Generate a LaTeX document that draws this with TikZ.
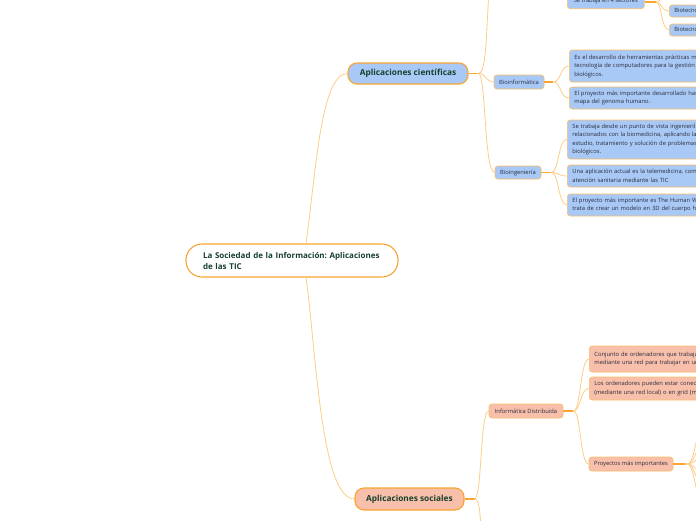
\documentclass[tikz,border=0pt]{standalone}
\usepackage{fontspec}
\setmainfont{Open Sans}
\frenchspacing
\definecolor{bord}{HTML}{F7A531}
\definecolor{sbord}{HTML}{F9BD6A}
\definecolor{lin}{HTML}{FDCD85}
\definecolor{blu}{HTML}{A8C9F6}
\definecolor{sal}{HTML}{F8C0AB}
\definecolor{dgreen}{HTML}{173F2E}
\definecolor{txt}{HTML}{2A2A3A}
\tikzset{
  mainbox/.style={draw=bord, line width=1.1pt, rounded corners=9pt, text=dgreen,
    font=\fontsize{8.3}{10}\selectfont\bfseries, align=center, inner sep=0pt},
  subbox/.style={draw=sbord, line width=0.7pt, rounded corners=3pt, text=txt,
    font=\fontsize{5.8}{8.5}\selectfont, inner sep=0pt, align=center},
  leafbox/.style={subbox, anchor=west, align=left, text width=200pt, inner xsep=5pt, inner ysep=0pt},
  thk/.style={draw=bord, line width=1.6pt},
  thn/.style={draw=lin, line width=0.8pt},
}
\begin{document}
\begin{tikzpicture}[x=1pt,y=-1pt]
\useasboundingbox (0,0) rectangle (696,520);
\clip (0,0) rectangle (696,520);

% central
\node[draw=bord, line width=1.1pt, rounded corners=16pt, fill=white, minimum width=212pt, minimum height=33pt,
  text=dgreen, font=\fontsize{8}{11}\selectfont\bfseries, align=left, text width=178pt, inner sep=0pt]
  (root) at (292,260.5) {\mbox{La Sociedad de la Información: Aplicaciones}\\de las TIC};

% level 1
\node[mainbox, fill=blu, minimum width=120pt, minimum height=21pt] (ac) at (408,73.5) {Aplicaciones científicas};
\node[mainbox, fill=sal, minimum width=109pt, minimum height=22pt] (as) at (409.5,499) {Aplicaciones sociales};

% level 2 (scientific)
\node[subbox, fill=blu, minimum width=50pt, minimum height=14pt] (binf) at (519,82) {Bioinformática};
\node[subbox, fill=blu, minimum width=46pt, minimum height=13pt] (bing) at (518,172.5) {Bioingeniería};
\node[subbox, fill=blu, minimum width=77pt, minimum height=16pt, anchor=south west] (sect) at (567,9) {\raisebox{-2pt}{Se trabaja en 4 sectores}};

% leaves
\node[leafbox, fill=blu, minimum height=32pt] (bi1) at (569,66) {Es el desarrollo de herramientas prácticas mediante la\\tecnología de computadores para la gestión de datos\\biológicos.};
\node[leafbox, fill=blu, minimum height=22pt] (bi2) at (569,98) {El proyecto más importante desarrollado hasta ahora es el\\mapa del genoma humano.};
\node[leafbox, fill=blu, minimum height=39pt] (bg1) at (567,139.5) {Se trabaja desde un punto de vista ingenieril los problemas\\relacionados con la biomedicina, aplicando las TIC al\\estudio, tratamiento y solución de problemas médicos y\\biológicos.};
\node[leafbox, fill=blu, minimum height=22pt] (bg2) at (567,176) {Una aplicación actual es la telemedicina, como la\\atención sanitaria mediante las TIC};
\node[leafbox, fill=blu, minimum height=22pt] (bg3) at (567,205) {El proyecto más importante es The Human Web, que\\trata de crear un modelo en 3D del cuerpo humano};
\node[leafbox, fill=blu, minimum height=12pt, text width=60pt] (bt1) at (669,11) {Biotecnología};
\node[leafbox, fill=blu, minimum height=12pt, text width=60pt] (bt2) at (669,30) {Biotecnología};

% social
\node[subbox, fill=sal, minimum width=74pt, minimum height=14pt] (idist) at (526,411) {Informática Distribuida};
\node[subbox, fill=sal, minimum width=84pt, minimum height=14pt] (proy) at (631,464) {Proyectos más importantes};
\node[leafbox, fill=sal, minimum height=26pt] (sd1) at (589,359) {Conjunto de ordenadores que trabajan conjuntamente\\mediante una red para trabajar en un mismo proyecto};
\node[leafbox, fill=sal, minimum height=23pt] (sd2) at (589,388.5) {Los ordenadores pueden estar conectados en cluster\\(mediante una red local) o en grid (mediante Internet)};

% free ends
\coordinate (acup) at (489,-10);
\coordinate (asdn) at (481,530);
\coordinate (sup) at (662,-10);
\coordinate (p1) at (705,400);
\coordinate (p2) at (705,430);
\coordinate (p3) at (705,452);
\coordinate (p4) at (705,478);
\coordinate (p5) at (705,500);
\coordinate (p6) at (705,535);

% root connectors
\draw[thn] (306,244) .. controls (316,170) and (321,73.5) .. (ac.west);
\draw[thn] (306,277) .. controls (316,350) and (321,499) .. (as.west);

% AC
\draw[thk] (ac.east) -- ++(10,0) coordinate (acj);
\draw[thn] (acj) .. controls (486,73.5) and (486,82) .. (binf.west);
\draw[thn] (acj) .. controls (486,73.5) and (486,40) .. (acup);
\draw[thn] (acj) .. controls (486,73.5) and (484,172.5) .. (bing.west);

% Bioinformatica
\draw[thk] (binf.east) -- ++(9,0) coordinate (bfj);
\draw[thn] (bfj) .. controls (561,82) and (560,66) .. (bi1.west);
\draw[thn] (bfj) .. controls (561,82) and (560,98) .. (bi2.west);

% Bioingenieria
\draw[thk] (bing.east) -- ++(10,0) coordinate (bgj);
\draw[thn] (bgj) .. controls (559,172.5) and (558,139.5) .. (bg1.west);
\draw[thn] (bgj) .. controls (559,172.5) and (558,176) .. (bg2.west);
\draw[thn] (bgj) .. controls (559,172.5) and (558,205) .. (bg3.west);

% sectores
\draw[thk] (sect.east |- 2,2) -- (656,2) coordinate (sj);
\draw[thn] (sj) .. controls (662,2) and (661,11) .. (bt1.west);
\draw[thn] (sj) .. controls (662,2) and (661,30) .. (bt2.west);
\draw[thn] (sj) .. controls (662,2) and (661,-4) .. (sup);

% AS
\draw[thk] (as.east) -- ++(10,0) coordinate (asj);
\draw[thn] (asj) .. controls (482,499) and (480,411) .. (idist.west);
\draw[thn] (asj) .. controls (480,499) and (480,515) .. (asdn);

% Informatica distribuida
\draw[thk] (idist.east) -- ++(10,0) coordinate (idj);
\draw[thn] (idj) .. controls (581,411) and (580,359) .. (sd1.west);
\draw[thn] (idj) .. controls (581,411) and (580,388.5) .. (sd2.west);
\draw[thn] (idj) .. controls (581,411) and (580,464) .. (proy.west);

% Proyectos
\draw[thk] (proy.east) -- ++(12,0) coordinate (pj);
\foreach \p in {p1,p2,p3,p4,p5,p6}
  \draw[thn] (pj) .. controls (692,464) and (692,464) .. (\p);
\end{tikzpicture}
\end{document}
